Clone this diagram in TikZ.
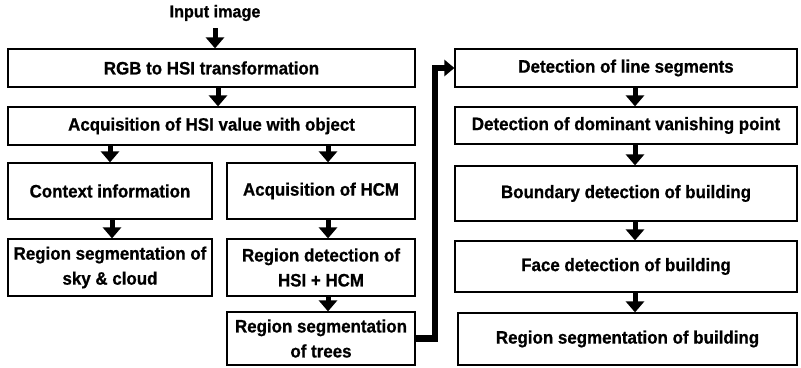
\documentclass[tikz,border=0pt]{standalone}
\usepackage{fontspec}
\setmainfont{Liberation Sans}[FakeStretch=0.94, BoldFeatures={FakeBold=0.8}]
\usetikzlibrary{arrows.meta}

\tikzset{
  box/.style={draw, line width=.6pt, inner sep=1pt, align=center,
    font=\bfseries\fontsize{9}{12.5}\selectfont},
  flow/.style={line width=2.5pt, -{Triangle[length=5.5pt, width=9pt]}},
  link/.style={line width=3.4pt, -{Triangle[length=5pt, width=8pt]}}
}

\begin{document}
\begin{tikzpicture}[x=.5pt, y=-.5pt]
\useasboundingbox (0,0) rectangle (801,368);

% left column
\node[font=\bfseries\fontsize{8.6}{10.5}\selectfont] (input) at (215,13) {Input image};
\node[box, minimum width=203.5pt, minimum height=19pt] (rgb) at (211.5,68) {RGB to HSI transformation};
\node[box, minimum width=203.5pt, minimum height=19pt] (hsi) at (211.5,126) {Acquisition of HSI value with object};

\node[box, minimum width=102pt, minimum height=28pt] (ctx) at (110,191) {Context information};
\node[box, minimum width=94pt, minimum height=28pt] (hcm) at (321,191) {Acquisition of HCM};
\node[box, minimum width=102pt, minimum height=28.5pt] (sky) at (110,267.5) {Region segmentation of\\sky \& cloud};
\node[box, minimum width=94pt, minimum height=28.5pt] (det) at (321,267.5) {Region detection of\\HSI + HCM};
\node[box, minimum width=94pt, minimum height=26.5pt] (trees) at (321,338.5) {Region segmentation\\of trees};

% right column
\node[box, minimum width=171pt, minimum height=19pt] (lines) at (626,68) {Detection of line segments};
\node[box, minimum width=171pt, minimum height=18.5pt] (vp) at (626,125.5) {Detection of dominant vanishing point};
\node[box, minimum width=171pt, minimum height=27.5pt] (bound) at (626,193.5) {Boundary detection of building};
\node[box, minimum width=171pt, minimum height=25.5pt] (face) at (626,266.5) {Face detection of building};
\node[box, minimum width=169.5pt, minimum height=26pt] (build) at (627.5,339) {Region segmentation of building};

\draw[flow] (input) -- (input |- rgb.north);
\draw[flow] (rgb.south -| 218,0) -- (hsi.north -| 218,0);
\draw[flow] (hsi.south -| ctx) -- (ctx.north);
\draw[flow] (hsi.south -| 328,0) -- (hcm.north -| 328,0);
\draw[flow] (ctx.south -| 112,0) -- (sky.north -| 112,0);
\draw[flow] (hcm.south -| 328,0) -- (det.north -| 328,0);
\draw[flow] (det.south -| 328,0) -- (trees.north -| 328,0);

\draw[flow] (lines.south -| 635,0) -- (vp.north -| 635,0);
\draw[flow] (vp.south -| 635,0) -- (bound.north -| 635,0);
\draw[flow] (bound.south -| 635,0) -- (face.north -| 635,0);
\draw[flow] (face.south -| 635,0) -- (build.north -| 635,0);

\coordinate (turn) at (435,200);
\draw[link] (trees.east) -| (turn) |- (lines.west);
\end{tikzpicture}
\end{document}
